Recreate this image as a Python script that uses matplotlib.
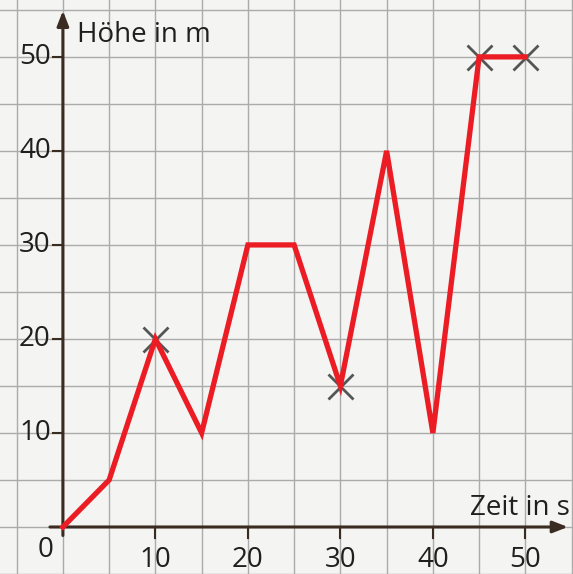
import matplotlib
matplotlib.use("Agg")
import matplotlib.pyplot as plt
import numpy as np

# data
time_s = [0, 5, 10, 15, 20, 25, 30, 35, 40, 45, 50]
height_m = [0, 5, 20, 10, 30, 30, 15, 40, 10, 50, 50]
mark_t = [10, 30, 45, 50]
mark_h = [20, 15, 50, 50]
xticks = [10, 20, 30, 40, 50]
yticks = [10, 20, 30, 40, 50]

plt.rcParams['font.family'] = ['Open Sans', 'DejaVu Sans']

fig = plt.figure(figsize=(5.73, 5.74), dpi=100)
fig.patch.set_facecolor('#f7f7f5')
ax = fig.add_axes([0, 0, 1, 1])
ax.set_facecolor('#f4f4f2')
ax.set_xlim(-6.8, 55.15)
ax.set_ylim(-5.0, 56.05)
for s in ax.spines.values():
    s.set_visible(False)
ax.set_xticks([]); ax.set_yticks([])

axis_col = '#3b2c22'
grid_col = '#ababab'
txt_col = '#1f1f1f'
# grid
for gx in np.arange(-5, 56, 5):
    ax.axvline(gx, color=grid_col, lw=1.0, zorder=1)
for gy in np.arange(-5, 56, 5):
    ax.axhline(gy, color=grid_col, lw=1.0, zorder=1)

# axes arrows
ax.annotate('', xy=(0, 55.2), xytext=(0, -1.2),
            arrowprops=dict(arrowstyle='-|>,head_length=0.9,head_width=0.35', color=axis_col, lw=2.2), zorder=3)
ax.annotate('', xy=(54.9, 0), xytext=(-1.7, 0),
            arrowprops=dict(arrowstyle='-|>,head_length=0.9,head_width=0.35', color=axis_col, lw=2.2), zorder=3)

# ticks
for t in yticks:
    ax.plot([-1.1, 0], [t, t], color=axis_col, lw=1.5, zorder=3)
    ax.text(-1.3, t, str(t), ha='right', va='center', fontsize=20, color=txt_col, zorder=4)
for t in xticks:
    ax.plot([t, t], [0, -1.2], color=axis_col, lw=1.5, zorder=3)
    ax.text(t, -2.0, str(t), ha='center', va='top', fontsize=20, color=txt_col, zorder=4)
ax.text(-1.0, -1.0, '0', ha='right', va='top', fontsize=20, color=txt_col, zorder=4)

ax.text(1.5, 52.3, 'Höhe in m', ha='left', va='center', fontsize=20, color=txt_col, zorder=4)
ax.text(54.8, 2.0, 'Zeit in s', ha='right', va='center', fontsize=20, color=txt_col, zorder=4)

# data line
ax.plot(time_s, height_m, color='#ec1c24', lw=3.8, zorder=5, solid_joinstyle='miter')
ax.plot(mark_t, mark_h, linestyle='none', marker='x', markersize=18, mew=2.0, color='#555555', zorder=4)

fig.savefig('out.png', dpi=100, facecolor=fig.get_facecolor())
